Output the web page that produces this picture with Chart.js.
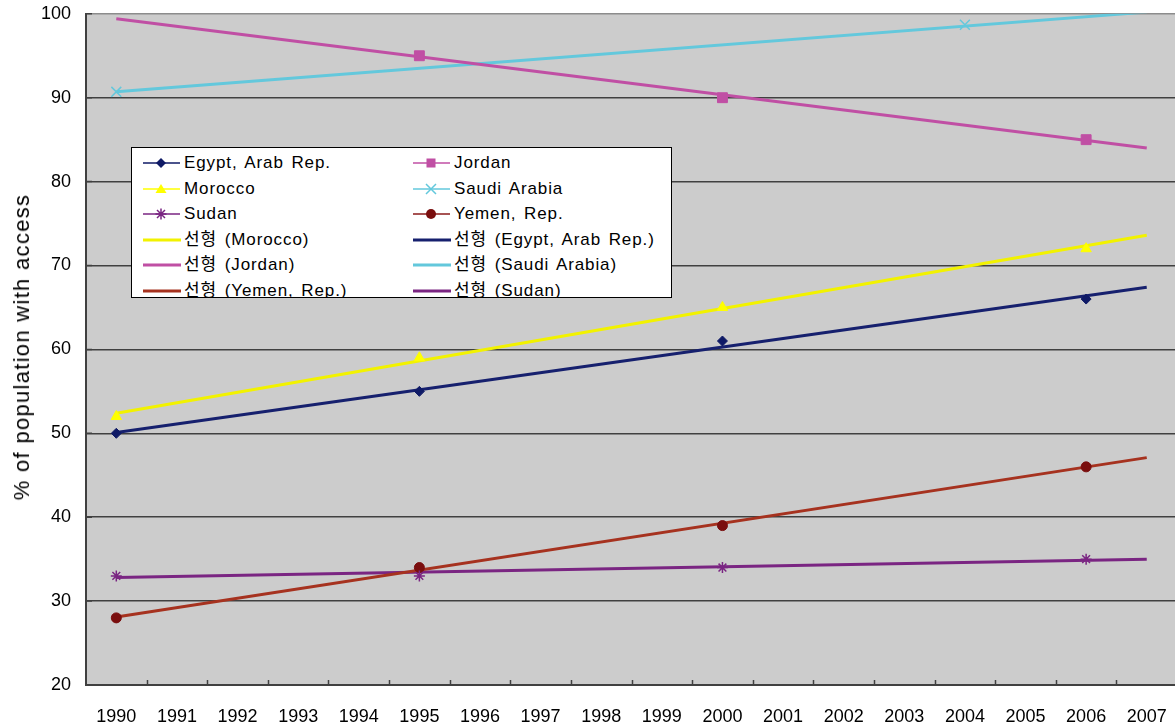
<!DOCTYPE html>
<html>
<head>
<meta charset="utf-8">
<script src="https://cdn.jsdelivr.net/npm/chart.js@4.4.1/dist/chart.umd.min.js"></script>
<style>
  html, body { margin: 0; padding: 0; background: #ffffff; overflow: hidden; width: 1175px; height: 725px; }
  #wrap { position: absolute; left: 0; top: -12px; width: 1188px; height: 737px; }
  #ytitle { position: absolute; left: 22px; top: 347px; transform: translate(-50%, -50%) rotate(-90deg);
    white-space: nowrap; font-family: "Liberation Sans", Arial, sans-serif; font-size: 22px; letter-spacing: 1.3px; color: #000; }
  #legend { position: absolute; left: 131px; top: 147px; width: 539px; height: 149px; background: #fff;
    border: 1px solid #000; overflow: hidden; font-family: "Liberation Sans", Arial, "Noto Sans CJK KR", sans-serif;
    font-size: 17px; color: #000; }
  .item { position: absolute; height: 22px; line-height: 22px; white-space: nowrap; letter-spacing: 0.9px; word-spacing: 2px; }
  .item svg { position: absolute; left: 0; top: 0; }
  .item span { position: absolute; top: 0; }
</style>
</head>
<body>
<div id="wrap"><canvas id="c"></canvas></div>
<div id="ytitle">% of population with access</div>
<div id="legend"></div>
<script>
// ---- data ----
const years = ['1990','1991','1992','1993','1994','1995','1996','1997','1998','1999','2000','2001','2002','2003','2004','2005','2006','2007'];
const egypt   = [50, null, null, null, null, 55, null, null, null, null, 61, null, null, null, null, null, 66, null];
const jordan  = [null, null, null, null, null, 95, null, null, null, null, 90, null, null, null, null, null, 85, null];
const morocco = [52, null, null, null, null, 59, null, null, null, null, 65, null, null, null, null, null, 72, null];
const saudi   = [90.7, null, null, null, null, null, null, null, null, null, null, null, null, null, 98.7, null, null, null];
const sudan   = [33, null, null, null, null, 33, null, null, null, null, 34, null, null, null, null, null, 35, null];
const yemen   = [28, null, null, null, null, 34, null, null, null, null, 39, null, null, null, null, null, 46, null];
// linear trend lines: value at 1990 and at 2007
const trendEgypt   = [50.1, 67.4];
const trendJordan  = [99.4, 84.0];
const trendMorocco = [52.4, 73.6];
const trendSaudi   = [90.7, 100.2];
const trendSudan   = [32.8, 35.0];
const trendYemen   = [28.1, 47.1];
const yTicks = [20, 30, 40, 50, 60, 70, 80, 90, 100];

function trend(pair) {
  return years.map((y, i) => i === 0 ? pair[0] : (i === years.length - 1 ? pair[1] : null));
}

const C = {
  egypt: '#0f1a66', egyptT: '#16206e',
  jordan: '#c04fa4',
  morocco: '#ffff00', moroccoT: '#f2f200',
  saudi: '#63c8dc',
  sudan: '#7a2582',
  yemen: '#7a0e0e', yemenT: '#a6321f'
};

function pts(label, data, color, style, r, bw) {
  return { label, data, showLine: false, pointStyle: style, pointRadius: r,
    pointBackgroundColor: color, pointBorderColor: color, pointBorderWidth: bw || 1,
    borderColor: color, backgroundColor: color };
}
function tl(label, data, color) {
  return { label, data: trend(data), spanGaps: true, borderColor: color, backgroundColor: color,
    borderWidth: 3, pointRadius: 0, tension: 0 };
}

const datasets = [
  pts('Egypt, Arab Rep.', egypt, C.egypt, 'rectRot', 5, 1),
  pts('Jordan', jordan, C.jordan, 'rect', 7, 1),
  pts('Morocco', morocco, C.morocco, 'triangle', 6, 1),
  pts('Saudi Arabia', saudi, C.saudi, 'crossRot', 7, 1.5),
  pts('Sudan', sudan, C.sudan, 'star', 5.5, 1.5),
  pts('Yemen, Rep.', yemen, C.yemen, 'circle', 5, 1),
  tl('선형 (Morocco)', trendMorocco, C.moroccoT),
  tl('선형 (Egypt, Arab Rep.)', trendEgypt, C.egyptT),
  tl('선형 (Jordan)', trendJordan, C.jordan),
  tl('선형 (Saudi Arabia)', trendSaudi, C.saudi),
  tl('선형 (Yemen, Rep.)', trendYemen, C.yemenT),
  tl('선형 (Sudan)', trendSudan, C.sudan)
];

const bgPlugin = {
  id: 'bg',
  beforeDraw(chart) {
    const { ctx, chartArea: a } = chart;
    ctx.save();
    ctx.fillStyle = '#cccccc';
    ctx.fillRect(a.left, a.top, a.right - a.left, a.bottom - a.top);
    ctx.restore();
  },
  afterDatasetsDraw(chart) {
    const { ctx, chartArea: a, scales } = chart;
    ctx.save();
    ctx.strokeStyle = '#404040';
    ctx.lineWidth = 1.5;
    const n = years.length;
    const w = (a.right - a.left) / n;
    ctx.beginPath();
    for (let i = 1; i < n; i++) {
      const x = Math.round(a.left + i * w) + 0.5;
      ctx.moveTo(x, a.bottom); ctx.lineTo(x, a.bottom - 5);
    }
    yTicks.forEach(v => {
      const y = scales.y.getPixelForValue(v);
      ctx.moveTo(a.left, y); ctx.lineTo(a.left + 6, y);
    });
    ctx.stroke();
    ctx.restore();
  }
};

new Chart(document.getElementById('c'), {
  type: 'line',
  data: { labels: years, datasets },
  options: {
    responsive: true, maintainAspectRatio: false, animation: false,
    layout: { padding: { top: 1, right: 1, left: 0, bottom: 0 } },
    plugins: { legend: { display: false }, tooltip: { enabled: false } },
    scales: {
      x: {
        offset: true,
        grid: { display: false, drawTicks: false },
        border: { display: true, color: '#404040', width: 2 },
        ticks: { color: '#000', font: { family: 'Liberation Sans', size: 18 }, padding: 21, maxRotation: 0, autoSkip: false },
        afterFit(s) { s.height = 40; }
      },
      y: {
        min: 20, max: 100,
        afterBuildTicks(s) { s.ticks = yTicks.map(v => ({ value: v })); },
        grid: { color: ctx => ctx.tick && ctx.tick.value === 100 ? '#8c8c8c' : '#404040', lineWidth: 1.5, drawTicks: false },
        border: { display: true, color: '#404040', width: 2 },
        ticks: { color: '#000', font: { family: 'Liberation Sans', size: 18 }, padding: 15 },
        afterFit(s) { s.width = 86; }
      }
    }
  },
  plugins: [bgPlugin]
});

// ---- legend (HTML overlay, two columns) ----
const legendItems = [
  { t: 'Egypt, Arab Rep.', c: C.egypt, m: 'diamond' },
  { t: 'Jordan', c: C.jordan, m: 'square' },
  { t: 'Morocco', c: C.morocco, m: 'triangle' },
  { t: 'Saudi Arabia', c: C.saudi, m: 'x' },
  { t: 'Sudan', c: C.sudan, m: 'star' },
  { t: 'Yemen, Rep.', c: C.yemen, lc: '#8a1a1a', m: 'circle' },
  { t: '선형 (Morocco)', c: C.moroccoT, trend: true },
  { t: '선형 (Egypt, Arab Rep.)', c: C.egyptT, trend: true },
  { t: '선형 (Jordan)', c: C.jordan, trend: true },
  { t: '선형 (Saudi Arabia)', c: C.saudi, trend: true },
  { t: '선형 (Yemen, Rep.)', c: C.yemenT, trend: true },
  { t: '선형 (Sudan)', c: C.sudan, trend: true }
];
function marker(m, c) {
  const cx = 18, cy = 11;
  switch (m) {
    case 'diamond': return `<polygon points="${cx},${cy-5} ${cx+5},${cy} ${cx},${cy+5} ${cx-5},${cy}" fill="${c}"/>`;
    case 'square': return `<rect x="${cx-4.5}" y="${cy-4.5}" width="9" height="9" fill="${c}"/>`;
    case 'triangle': return `<polygon points="${cx},${cy-5} ${cx+5.5},${cy+4} ${cx-5.5},${cy+4}" fill="${c}"/>`;
    case 'x': return `<path d="M${cx-5},${cy-5}L${cx+5},${cy+5}M${cx+5},${cy-5}L${cx-5},${cy+5}" stroke="${c}" stroke-width="1.5"/>`;
    case 'star': return `<path d="M${cx-4},${cy-4}L${cx+4},${cy+4}M${cx+4},${cy-4}L${cx-4},${cy+4}M${cx},${cy-5.5}L${cx},${cy+5.5}M${cx-5.5},${cy}L${cx+5.5},${cy}" stroke="${c}" stroke-width="1.5"/>`;
    case 'circle': return `<circle cx="${cx}" cy="${cy}" r="5" fill="${c}"/>`;
  }
  return '';
}
const lg = document.getElementById('legend');
legendItems.forEach((it, i) => {
  const col = i % 2, row = Math.floor(i / 2);
  const d = document.createElement('div');
  d.className = 'item';
  d.style.left = (col === 0 ? 11 : 281) + 'px';
  d.style.top = (4 + row * 25.6) + 'px';
  let svg;
  if (it.trend) {
    svg = `<svg width="40" height="22"><line x1="0" y1="11" x2="38" y2="11" stroke="${it.c}" stroke-width="3"/></svg>`;
  } else {
    svg = `<svg width="40" height="22"><line x1="0" y1="11" x2="37" y2="11" stroke="${it.lc || it.c}" stroke-width="1.5"/>${marker(it.m, it.c)}</svg>`;
  }
  d.innerHTML = svg + `<span style="left:41px">${it.t}</span>`;
  lg.appendChild(d);
});
</script>
</body>
</html>
